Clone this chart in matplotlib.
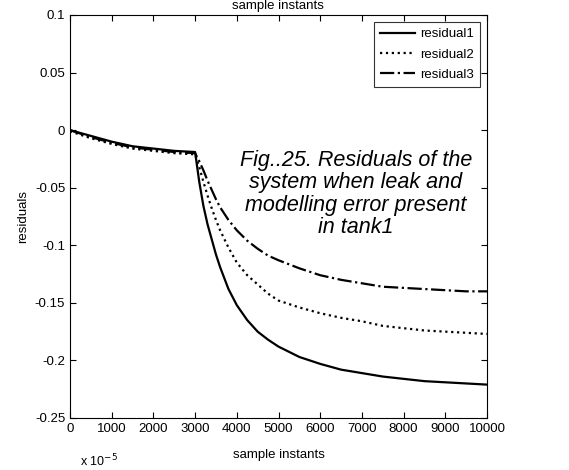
import matplotlib
matplotlib.use('Agg')
import matplotlib.pyplot as plt

plt.rcParams['font.family'] = ['Liberation Sans', 'DejaVu Sans']

# sample instants and the three residual signals
samples = [0, 500, 1000, 1500, 2000, 2500, 3000, 3100, 3200, 3300, 3400, 3500,
           3600, 3800, 4000, 4250, 4500, 4750, 5000, 5500, 6000, 6500, 7000,
           7500, 8000, 8500, 9000, 9500, 10000]
residual1 = [0.000, -0.005, -0.010, -0.014, -0.016, -0.018, -0.019, -0.045,
             -0.066, -0.082, -0.095, -0.108, -0.119, -0.138, -0.152, -0.165,
             -0.175, -0.182, -0.188, -0.197, -0.203, -0.208, -0.211, -0.214,
             -0.216, -0.218, -0.219, -0.220, -0.221]
residual2 = [-0.001, -0.007, -0.012, -0.016, -0.018, -0.020, -0.021, -0.032,
             -0.045, -0.057, -0.068, -0.078, -0.087, -0.102, -0.115, -0.126,
             -0.134, -0.142, -0.148, -0.154, -0.159, -0.163, -0.166, -0.170,
             -0.172, -0.174, -0.175, -0.176, -0.177]
residual3 = [0.000, -0.006, -0.011, -0.015, -0.017, -0.019, -0.020, -0.027,
             -0.035, -0.044, -0.052, -0.060, -0.067, -0.078, -0.087, -0.096,
             -0.103, -0.109, -0.113, -0.120, -0.126, -0.130, -0.133, -0.136,
             -0.137, -0.138, -0.139, -0.140, -0.140]

xticks = [0, 1000, 2000, 3000, 4000, 5000, 6000, 7000, 8000, 9000, 10000]
yticks = [0.1, 0.05, 0, -0.05, -0.1, -0.15, -0.2, -0.25]
ytick_labels = ['0.1', '0.05', '0', '-0.05', '-0.1', '-0.15', '-0.2', '-0.25']

fig = plt.figure(figsize=(5.69, 4.70), dpi=100)
ax = fig.add_axes([70 / 569, 52 / 470, 417 / 569, 403 / 470])

ax.plot(samples, residual1, color='black', linestyle='-', linewidth=1.6, label='residual1')
ax.plot(samples, residual2, color='black', linestyle=':', linewidth=1.6, label='residual2')
ax.plot(samples, residual3, color='black', linestyle='-.', linewidth=1.6, label='residual3')

ax.set_xlim(0, 10000)
ax.set_ylim(-0.25, 0.1)
ax.set_xticks(xticks)
ax.set_xticklabels([str(t) for t in xticks])
ax.set_yticks(yticks)
ax.set_yticklabels(ytick_labels)
ax.tick_params(direction='in', top=True, right=True, labelsize=9.5, length=4, width=0.8)
for s in ax.spines.values():
    s.set_linewidth(0.8)

ax.set_xlabel('sample instants', fontsize=9.5, labelpad=10)
ax.set_ylabel('residuals', fontsize=9.5, labelpad=4)

leg = ax.legend(loc='upper right', fontsize=9.5, frameon=True, fancybox=False,
                edgecolor='black', borderaxespad=0.5, handlelength=2.6,
                handletextpad=0.4, labelspacing=0.6, borderpad=0.5)
leg.get_frame().set_linewidth(0.8)

ax.text(0.686, 0.556, 'Fig..25. Residuals of the\nsystem when leak and\nmodelling error present\nin tank1',
        transform=ax.transAxes, fontsize=15.5, style='italic', ha='center', va='center',
        linespacing=1.08)

# leftover labels from the neighbouring subplot
fig.text(278 / 569, 1 - 6 / 470, 'sample instants', fontsize=9.5, ha='center', va='center')
fig.text(80 / 569, 1 - 461 / 470, r'x 10$^{-5}$', fontsize=9, ha='left', va='center')

fig.savefig('out.png', dpi=100)
